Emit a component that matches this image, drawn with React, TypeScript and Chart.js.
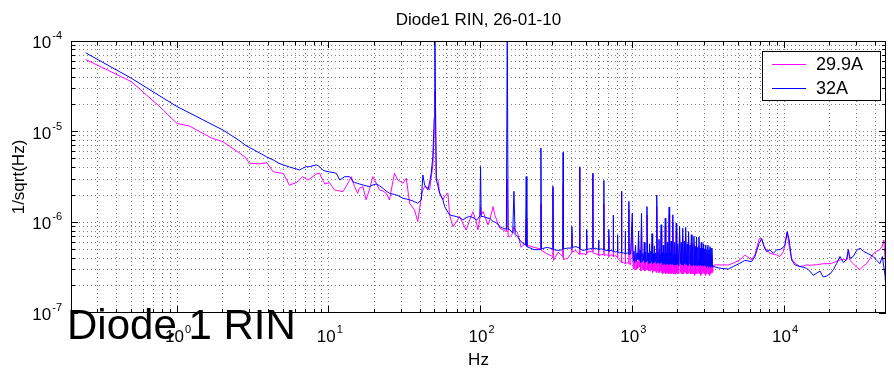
import React, { useEffect, useRef } from 'react';
import { Chart, registerables } from 'chart.js';

Chart.register(...registerables);

// ---------- Data ----------
const seriesLabels = ['29.9A', '32A'];
const seriesColors = ['#ff00ff', '#0000ff'];
const chartTitle = 'Diode1 RIN, 26-01-10';
const xAxisTitle = 'Hz';
const yAxisTitle = '1/sqrt(Hz)';
const overlayText = 'Diode 1 RIN';
const xDecadeExps = [0, 1, 2, 3, 4];
const yDecadeExps = [-4, -5, -6, -7];
const xRange = [0.2, 47000];
const yRange = [1e-7, 1e-4];

// Low frequency part (0.25 Hz – 152 Hz)
const freqLow = [
  0.25, 0.5, 0.76, 1.0, 1.2, 1.7, 2.0, 2.6, 2.8, 3.0,
  3.5, 3.9, 4.3, 4.7, 5.0, 5.5, 6.1, 6.4, 6.7, 7.1,
  7.3, 8.3, 8.7, 9.1, 9.4, 10.1, 10.9, 11.2, 11.8, 12.4,
  12.7, 13.0, 13.7, 14.1, 14.4, 14.8, 15.5, 15.9, 16.8, 17.6,
  18.5, 19.5, 20.5, 21.6, 22.7, 23.9, 25.1, 27.1, 28.5, 30.8,
  32.4, 34.1, 36.7, 38.6, 40.7, 41.7, 42.8, 45, 46.2, 47.3,
  48.5, 49.5, 50, 50.5, 51.1, 52.4, 53.7, 56.5, 58, 61,
  62.5, 65.8, 69.2, 72.8, 76.6, 80.6, 84.8, 89.1, 93.8, 96.1,
  99, 100, 101, 104, 112, 115, 121, 124, 130, 134,
  141, 148, 150, 152,
];
const rin299ALow = [
  6.25e-5, 3.56e-5, 1.92e-5, 1.23e-5, 1.16e-5, 8.46e-6, 7.76e-6, 5.76e-6, 5.26e-6, 4.48e-6,
  4.41e-6, 4.55e-6, 3.62e-6, 3.51e-6, 3.48e-6, 2.58e-6, 2.74e-6, 2.93e-6, 3.19e-6, 3.01e-6,
  2.93e-6, 3.42e-6, 3.48e-6, 2.93e-6, 2.65e-6, 2.74e-6, 2.28e-6, 2.25e-6, 2.22e-6, 2.18e-6,
  2.33e-6, 2.48e-6, 2.93e-6, 3.19e-6, 2.78e-6, 2.48e-6, 2.09e-6, 2.38e-6, 2.48e-6, 1.77e-6,
  2.28e-6, 3.19e-6, 2.72e-6, 2.28e-6, 2.22e-6, 2.09e-6, 1.77e-6, 3.48e-6, 2.93e-6, 2.70e-6,
  3.06e-6, 1.62e-6, 1.37e-6, 1.02e-6, 1.92e-6, 2.28e-6, 2.48e-6, 2.40e-6, 2.28e-6, 3.09e-6,
  4.30e-6, 1.0e-5, 2.8e-5, 1.2e-5, 3.09e-6, 2.93e-6, 2.15e-6, 1.77e-6, 1.95e-6, 2.09e-6,
  1.21e-6, 8.97e-7, 1.01e-6, 1.16e-6, 9.6e-7, 8.25e-7, 1.06e-6, 1.31e-6, 1.01e-6, 8.25e-7,
  1.11e-6, 1.48e-6, 1.21e-6, 1.31e-6, 9.36e-7, 1.06e-6, 1.49e-6, 1.21e-6, 9.77e-7, 8.6e-7,
  8.25e-7, 7.9e-7, 3.0e-6, 6.95e-7,
];
const rin32ALow = [
  7.4e-5, 3.88e-5, 2.51e-5, 1.89e-5, 1.62e-5, 1.20e-5, 1.045e-5, 7.89e-6, 7.14e-6, 6.70e-6,
  5.82e-6, 5.26e-6, 4.88e-6, 4.48e-6, 4.30e-6, 4.08e-6, 3.88e-6, 3.78e-6, 3.93e-6, 4.12e-6,
  4.08e-6, 4.30e-6, 4.13e-6, 3.78e-6, 3.69e-6, 3.60e-6, 3.51e-6, 3.48e-6, 2.93e-6, 3.09e-6,
  3.19e-6, 3.19e-6, 3.19e-6, 3.01e-6, 2.81e-6, 2.75e-6, 2.69e-6, 2.65e-6, 2.58e-6, 2.53e-6,
  2.48e-6, 2.58e-6, 2.65e-6, 2.53e-6, 2.38e-6, 2.21e-6, 2.09e-6, 2.03e-6, 1.98e-6, 1.84e-6,
  1.81e-6, 1.77e-6, 1.69e-6, 1.62e-6, 1.77e-6, 3.33e-6, 2.58e-6, 2.28e-6, 2.78e-6, 3.48e-6,
  5.30e-6, 1.4e-5, 1.3e-4, 2.0e-5, 2.93e-6, 2.53e-6, 2.09e-6, 1.77e-6, 1.49e-6, 1.29e-6,
  1.21e-6, 1.18e-6, 1.16e-6, 1.13e-6, 1.06e-6, 1.13e-6, 1.16e-6, 1.13e-6, 1.06e-6, 1.09e-6,
  1.18e-6, 4.12e-6, 1.16e-6, 1.16e-6, 1.11e-6, 1.11e-6, 1.02e-6, 1.01e-6, 9.6e-7, 8.97e-7,
  8.6e-7, 8.4e-7, 1.3e-4, 8.3e-7,
];

// Mains harmonics region (156 Hz – 975 Hz)
const freqMid = [
  156, 163, 166, 169, 175, 185,
  198, 200, 202, 225, 248, 250, 252, 275, 298, 300, 302, 325,
  348, 350, 352, 375, 398, 400, 402, 425, 448, 450, 452, 475,
  498, 500, 502, 525, 548, 550, 552, 575, 598, 600, 602, 625,
  648, 650, 652, 675, 698, 700, 702, 725, 748, 750, 752, 775,
  798, 800, 802, 825, 848, 850, 852, 875, 898, 900, 902, 925,
  948, 950, 952, 975,
];
const rin299AMid = [
  6.95e-7, 7.5e-7, 9.0e-7, 8.2e-7, 7.8e-7, 5.3e-7,
  5.9e-7, 1.1e-6, 5.6e-7, 5.3e-7, 5.1e-7, 1.6e-6, 4.9e-7, 4.5e-7, 4.2e-7, 2.4e-6, 3.8e-7, 4.7e-7,
  4.2e-7, 2.6e-6, 3.9e-7, 4.0e-7, 4.6e-7, 7.5e-7, 4.7e-7, 4.9e-7, 4.4e-7, 4.0e-6, 4.5e-7, 4.5e-7,
  4.4e-7, 7.2e-7, 4.6e-7, 4.8e-7, 4.7e-7, 3.4e-6, 4.6e-7, 4.5e-7, 4.4e-7, 5.6e-7, 4.3e-7, 4.4e-7,
  4.4e-7, 1.6e-6, 4.3e-7, 4.4e-7, 4.3e-7, 7.0e-7, 4.2e-7, 4.4e-7, 4.3e-7, 1.2e-6, 4.2e-7, 4.3e-7,
  4.1e-7, 6.2e-7, 4.0e-7, 3.8e-7, 3.7e-7, 2.2e-6, 3.6e-7, 3.6e-7, 3.5e-7, 6.5e-7, 3.5e-7, 3.6e-7,
  3.5e-7, 1.4e-6, 3.5e-7, 3.4e-7,
];
const rin32AMid = [
  8.3e-7, 7.6e-7, 2.2e-6, 7.3e-7, 7.0e-7, 6.1e-7,
  5.6e-7, 3.2e-6, 5.4e-7, 5.0e-7, 5.0e-7, 6.6e-6, 5.1e-7, 5.3e-7, 5.1e-7, 2.5e-6, 5.0e-7, 4.9e-7,
  5.0e-7, 5.9e-6, 5.1e-7, 5.2e-7, 5.2e-7, 9.0e-7, 5.3e-7, 5.4e-7, 5.2e-7, 4.1e-6, 5.1e-7, 4.9e-7,
  5.0e-7, 8.3e-7, 5.0e-7, 5.1e-7, 5.2e-7, 3.5e-6, 5.1e-7, 5.2e-7, 5.0e-7, 6.4e-7, 5.0e-7, 5.1e-7,
  5.0e-7, 2.9e-6, 5.0e-7, 4.9e-7, 4.9e-7, 8.3e-7, 4.8e-7, 4.9e-7, 4.8e-7, 1.2e-6, 4.8e-7, 4.7e-7,
  4.8e-7, 7.3e-7, 4.7e-7, 4.6e-7, 4.7e-7, 2.2e-6, 4.6e-7, 4.6e-7, 4.5e-7, 8.0e-7, 4.5e-7, 4.6e-7,
  4.5e-7, 1.7e-6, 4.4e-7, 4.5e-7,
];

// Dense harmonic band, first part (1 kHz – 1.99 kHz)
const freqBand1 = [
  1000, 1012.5, 1025, 1037.5, 1050, 1062.5, 1075, 1087.5, 1100, 1112.5,
  1125, 1137.5, 1150, 1162.5, 1175, 1187.5, 1200, 1212.5, 1225, 1237.5,
  1250, 1262.5, 1275, 1287.5, 1300, 1312.5, 1325, 1337.5, 1350, 1362.5,
  1375, 1387.5, 1400, 1412.5, 1425, 1437.5, 1450, 1462.5, 1475, 1487.5,
  1500, 1512.5, 1525, 1537.5, 1550, 1562.5, 1575, 1587.5, 1600, 1612.5,
  1625, 1637.5, 1650, 1662.5, 1675, 1687.5, 1700, 1712.5, 1725, 1737.5,
  1750, 1762.5, 1775, 1787.5, 1800, 1812.5, 1825, 1837.5, 1850, 1862.5,
  1875, 1887.5, 1900, 1912.5, 1925, 1937.5, 1950, 1962.5, 1975, 1987.5,
];
const rin299ABand1 = [
  1.0e-6, 3.1e-7, 3.8e-7, 3.0e-7, 4.4e-7, 3.0e-7, 3.7e-7, 3.1e-7, 6.0e-7, 3.2e-7,
  3.8e-7, 2.9e-7, 9.5e-7, 3.0e-7, 3.6e-7, 3.0e-7, 4.6e-7, 2.9e-7, 3.7e-7, 3.0e-7,
  1.2e-6, 3.0e-7, 3.6e-7, 2.9e-7, 4.5e-7, 2.9e-7, 3.7e-7, 3.0e-7, 5.8e-7, 2.8e-7,
  3.5e-7, 2.9e-7, 4.3e-7, 2.9e-7, 3.6e-7, 2.8e-7, 1.5e-6, 2.9e-7, 3.6e-7, 2.8e-7,
  5.0e-7, 2.8e-7, 3.5e-7, 2.9e-7, 8.0e-7, 2.8e-7, 3.6e-7, 2.7e-7, 4.3e-7, 2.8e-7,
  3.5e-7, 2.8e-7, 9.0e-7, 2.7e-7, 3.5e-7, 2.8e-7, 4.6e-7, 2.8e-7, 3.4e-7, 2.7e-7,
  1.2e-6, 2.8e-7, 3.5e-7, 2.7e-7, 4.8e-7, 2.7e-7, 3.4e-7, 2.8e-7, 1.0e-6, 2.7e-7,
  3.4e-7, 2.7e-7, 4.5e-7, 2.7e-7, 3.4e-7, 2.7e-7, 8.0e-7, 2.8e-7, 3.4e-7, 2.7e-7,
];
const rin32ABand1 = [
  1.26e-6, 3.8e-7, 4.8e-7, 3.6e-7, 5.6e-7, 3.7e-7, 4.6e-7, 3.9e-7, 8.0e-7, 3.8e-7,
  4.9e-7, 3.6e-7, 1.26e-6, 3.7e-7, 4.5e-7, 3.8e-7, 6.0e-7, 3.6e-7, 4.7e-7, 3.7e-7,
  1.49e-6, 3.8e-7, 4.6e-7, 3.5e-7, 5.8e-7, 3.6e-7, 4.8e-7, 3.7e-7, 7.5e-7, 3.5e-7,
  4.5e-7, 3.6e-7, 5.5e-7, 3.7e-7, 4.6e-7, 3.5e-7, 2.0e-6, 3.6e-7, 4.7e-7, 3.6e-7,
  6.5e-7, 3.5e-7, 4.4e-7, 3.6e-7, 9.4e-7, 3.6e-7, 4.6e-7, 3.4e-7, 5.6e-7, 3.5e-7,
  4.5e-7, 3.5e-7, 1.11e-6, 3.4e-7, 4.6e-7, 3.6e-7, 6.0e-7, 3.5e-7, 4.4e-7, 3.4e-7,
  1.47e-6, 3.5e-7, 4.5e-7, 3.5e-7, 6.2e-7, 3.4e-7, 4.4e-7, 3.5e-7, 1.21e-6, 3.4e-7,
  4.5e-7, 3.4e-7, 6.0e-7, 3.5e-7, 4.3e-7, 3.4e-7, 9.8e-7, 3.4e-7, 4.4e-7, 3.5e-7,
];

// Dense harmonic band, second part (2 kHz – 3.4 kHz)
const freqBand2 = [
  2000, 2025, 2050, 2075, 2100, 2125, 2150, 2175, 2200, 2225,
  2250, 2275, 2300, 2325, 2350, 2375, 2400, 2425, 2450, 2475,
  2500, 2525, 2550, 2575, 2600, 2625, 2650, 2675, 2700, 2725,
  2750, 2775, 2800, 2825, 2850, 2875, 2900, 2925, 2950, 2975,
  3000, 3025, 3050, 3075, 3100, 3125, 3150, 3175, 3200, 3225,
  3250, 3275, 3300, 3325, 3350, 3375, 3400,
];
const rin299ABand2 = [
  4.4e-7, 2.7e-7, 7.2e-7, 2.8e-7, 4.5e-7, 2.7e-7, 7.0e-7, 2.7e-7, 4.6e-7, 2.8e-7,
  7.0e-7, 2.7e-7, 4.4e-7, 2.7e-7, 6.4e-7, 2.8e-7, 4.3e-7, 2.7e-7, 6.0e-7, 2.7e-7,
  4.2e-7, 2.7e-7, 5.7e-7, 2.6e-7, 4.2e-7, 2.7e-7, 5.6e-7, 2.7e-7, 4.1e-7, 2.8e-7,
  5.6e-7, 2.7e-7, 4.1e-7, 2.6e-7, 4.9e-7, 2.7e-7, 4.1e-7, 2.8e-7, 4.8e-7, 2.7e-7,
  4.0e-7, 2.6e-7, 4.6e-7, 2.7e-7, 4.0e-7, 2.8e-7, 4.5e-7, 2.7e-7, 4.0e-7, 2.6e-7,
  4.4e-7, 2.7e-7, 4.0e-7, 2.8e-7, 4.3e-7, 2.8e-7, 3.2e-7,
];
const rin32ABand2 = [
  5.8e-7, 3.3e-7, 9.0e-7, 3.5e-7, 6.0e-7, 3.4e-7, 8.6e-7, 3.3e-7, 6.2e-7, 3.5e-7,
  8.8e-7, 3.4e-7, 5.8e-7, 3.3e-7, 7.9e-7, 3.5e-7, 5.6e-7, 3.4e-7, 7.3e-7, 3.3e-7,
  5.5e-7, 3.4e-7, 7.0e-7, 3.3e-7, 5.4e-7, 3.4e-7, 6.9e-7, 3.3e-7, 5.3e-7, 3.4e-7,
  6.9e-7, 3.3e-7, 5.2e-7, 3.4e-7, 6.0e-7, 3.3e-7, 5.2e-7, 3.3e-7, 5.8e-7, 3.4e-7,
  5.1e-7, 3.3e-7, 5.6e-7, 3.2e-7, 5.0e-7, 3.3e-7, 5.6e-7, 3.2e-7, 5.0e-7, 3.3e-7,
  5.4e-7, 3.2e-7, 5.2e-7, 3.3e-7, 5.2e-7, 3.2e-7, 3.3e-7,
];

// High frequency part (3.45 kHz – 47 kHz)
const freqHigh = [
  3450, 3780, 4290, 4620, 5120, 5520, 6110, 6430, 6860, 7120,
  7380, 7680, 8070, 8490, 8940, 9400, 9890, 10140, 10500, 10820,
  11220, 11800, 12730, 13400, 14090, 14800, 15590, 16400, 17260, 18100,
  19100, 20100, 21130, 22200, 23380, 24600, 25880, 26540, 27200, 28600,
  30100, 31670, 33300, 35050, 36900, 38730, 40800, 42870, 44500, 45500,
  46300, 46700, 47000,
];
const rin299AHigh = [
  3.39e-7, 3.39e-7, 3.39e-7, 3.54e-7, 3.85e-7, 4.37e-7, 3.85e-7, 4.37e-7, 6.6e-7, 6.6e-7,
  5.5e-7, 4.96e-7, 4.56e-7, 4.45e-7, 4.37e-7, 4.19e-7, 4.75e-7, 5.6e-7, 7.89e-7, 5.4e-7,
  4.0e-7, 3.54e-7, 3.25e-7, 3.3e-7, 3.4e-7, 3.35e-7, 3.4e-7, 3.4e-7, 3.45e-7, 3.5e-7,
  3.5e-7, 3.5e-7, 3.6e-7, 3.7e-7, 3.85e-7, 3.9e-7, 3.85e-7, 5.0e-7, 3.8e-7, 3.5e-7,
  3.2e-7, 3.0e-7, 3.3e-7, 3.5e-7, 4.0e-7, 4.5e-7, 4.8e-7, 5.0e-7, 5.5e-7, 6.4e-7,
  4.0e-7, 3.3e-7, 6.0e-7,
];
const rin32AHigh = [
  3.25e-7, 3.12e-7, 3.05e-7, 3.25e-7, 3.54e-7, 3.8e-7, 3.69e-7, 4.19e-7, 5.88e-7, 6.6e-7,
  5.4e-7, 4.75e-7, 4.96e-7, 4.56e-7, 4.96e-7, 5.0e-7, 5.3e-7, 5.65e-7, 7.89e-7, 6.4e-7,
  3.85e-7, 3.39e-7, 3.25e-7, 3.2e-7, 3.1e-7, 2.9e-7, 2.6e-7, 2.75e-7, 2.9e-7, 2.5e-7,
  2.55e-7, 2.7e-7, 3.0e-7, 3.5e-7, 4.2e-7, 3.6e-7, 3.9e-7, 5.0e-7, 4.0e-7, 4.2e-7,
  4.9e-7, 5.2e-7, 4.8e-7, 4.6e-7, 4.4e-7, 4.2e-7, 3.8e-7, 3.5e-7, 4.2e-7, 3.2e-7,
  2.6e-7, 2.1e-7, 6.8e-7,
];

const freqHz = [...freqLow, ...freqMid, ...freqBand1, ...freqBand2, ...freqHigh];
const rin299A = [...rin299ALow, ...rin299AMid, ...rin299ABand1, ...rin299ABand2, ...rin299AHigh];
const rin32A = [...rin32ALow, ...rin32AMid, ...rin32ABand1, ...rin32ABand2, ...rin32AHigh];

const FONT = '"Liberation Sans", Arial, Helvetica, sans-serif';

function drawPow(ctx: CanvasRenderingContext2D, exp: string, ax: number, baseY: number, align: 'center' | 'right') {
  ctx.font = `17px ${FONT}`;
  const w1 = ctx.measureText('10').width;
  ctx.font = `11px ${FONT}`;
  const w2 = ctx.measureText(exp).width;
  const total = w1 + 1 + w2;
  const sx = align === 'center' ? ax - total / 2 : ax - total;
  ctx.textAlign = 'left';
  ctx.textBaseline = 'alphabetic';
  ctx.font = `17px ${FONT}`;
  ctx.fillText('10', sx, baseY);
  ctx.font = `11px ${FONT}`;
  ctx.fillText(exp, sx + w1 + 1, baseY - 9);
}

function decadeValues(min: number, max: number) {
  const out: { v: number; major: boolean }[] = [];
  const e0 = Math.floor(Math.log10(min));
  const e1 = Math.ceil(Math.log10(max));
  for (let e = e0; e <= e1; e++) {
    for (let k = 1; k <= 9; k++) {
      const v = k * Math.pow(10, e);
      if (v >= min * 0.9999 && v <= max * 1.0001) out.push({ v, major: k === 1 });
    }
  }
  return out;
}

const matlabAxes = {
  id: 'matlabAxes',
  beforeDatasetsDraw(chart: any) {
    const { ctx, chartArea: a, scales } = chart;
    const xs = scales.x;
    const ys = scales.y;
    ctx.save();
    ctx.strokeStyle = 'rgba(0,0,0,0.5)';
    ctx.lineWidth = 1;
    ctx.setLineDash([1, 3]);
    for (const t of decadeValues(xRange[0], xRange[1])) {
      const px = Math.floor(xs.getPixelForValue(t.v)) + 0.5;
      if (px <= a.left + 1 || px >= a.right - 1) continue;
      ctx.beginPath();
      ctx.moveTo(px, a.top);
      ctx.lineTo(px, a.bottom);
      ctx.stroke();
    }
    for (const t of decadeValues(yRange[0], yRange[1])) {
      const py = Math.floor(ys.getPixelForValue(t.v)) + 0.5;
      if (py <= a.top + 1 || py >= a.bottom - 1) continue;
      ctx.beginPath();
      ctx.moveTo(a.left, py);
      ctx.lineTo(a.right, py);
      ctx.stroke();
    }
    ctx.restore();
  },
  afterDatasetsDraw(chart: any) {
    const { ctx, chartArea: a, scales } = chart;
    const xs = scales.x;
    const ys = scales.y;
    ctx.save();
    ctx.setLineDash([]);
    ctx.strokeStyle = '#000';
    ctx.lineWidth = 1;
    // ticks
    ctx.beginPath();
    for (const t of decadeValues(xRange[0], xRange[1])) {
      const px = Math.floor(xs.getPixelForValue(t.v)) + 0.5;
      const len = t.major ? 7 : 4;
      ctx.moveTo(px, a.bottom);
      ctx.lineTo(px, a.bottom - len);
      ctx.moveTo(px, a.top);
      ctx.lineTo(px, a.top + len);
    }
    for (const t of decadeValues(yRange[0], yRange[1])) {
      const py = Math.floor(ys.getPixelForValue(t.v)) + 0.5;
      const len = t.major ? 7 : 4;
      ctx.moveTo(a.left, py);
      ctx.lineTo(a.left + len, py);
      ctx.moveTo(a.right, py);
      ctx.lineTo(a.right - len, py);
    }
    ctx.stroke();
    // frame
    ctx.strokeRect(a.left + 0.5, a.top + 0.5, a.right - a.left - 1, a.bottom - a.top - 1);

    ctx.fillStyle = '#000';
    // tick labels
    for (const e of xDecadeExps) {
      const px = xs.getPixelForValue(Math.pow(10, e));
      drawPow(ctx, String(e), px + 1, a.bottom + 29, 'center');
    }
    for (const e of yDecadeExps) {
      const py = ys.getPixelForValue(Math.pow(10, e));
      drawPow(ctx, String(e), a.left - 9, py + 7, 'right');
    }
    // title & axis titles
    ctx.font = `17px ${FONT}`;
    ctx.textAlign = 'center';
    ctx.textBaseline = 'alphabetic';
    const cx = (a.left + a.right) / 2;
    ctx.fillText(chartTitle, cx, 25);
    ctx.fillText(xAxisTitle, cx, a.bottom + 52);
    ctx.save();
    ctx.translate(24, (a.top + a.bottom) / 2);
    ctx.rotate(-Math.PI / 2);
    ctx.textBaseline = 'alphabetic';
    ctx.fillText(yAxisTitle, 0, 0);
    ctx.restore();

    // legend
    const lx = 762, ly = 51, lw = 118, lh = 49;
    ctx.fillStyle = '#fff';
    ctx.fillRect(lx, ly, lw, lh);
    ctx.strokeStyle = '#000';
    ctx.strokeRect(lx + 0.5, ly + 0.5, lw, lh);
    const rows = [64, 88];
    seriesLabels.forEach((lab, i) => {
      ctx.strokeStyle = seriesColors[i];
      ctx.beginPath();
      ctx.moveTo(772, rows[i] + 0.5);
      ctx.lineTo(806, rows[i] + 0.5);
      ctx.stroke();
      ctx.fillStyle = '#000';
      ctx.font = `18px ${FONT}`;
      ctx.textAlign = 'left';
      ctx.textBaseline = 'middle';
      ctx.fillText(lab, 816, rows[i] + 1);
    });

    // overlay caption
    ctx.fillStyle = '#000';
    ctx.font = `42px ${FONT}`;
    ctx.textAlign = 'left';
    ctx.textBaseline = 'alphabetic';
    ctx.fillText(overlayText, 67, 339);
    ctx.restore();
  },
};

export default function App() {
  const canvasRef = useRef<HTMLCanvasElement>(null);
  useEffect(() => {
    const canvas = canvasRef.current;
    if (!canvas) return;
    const chart = new Chart(canvas, {
      type: 'line',
      data: {
        datasets: [
          {
            label: seriesLabels[0],
            data: freqHz.map((f, i) => ({ x: f, y: rin299A[i] })),
            borderColor: seriesColors[0],
            backgroundColor: seriesColors[0],
            borderWidth: 1,
            pointRadius: 0,
            order: 1,
          },
          {
            label: seriesLabels[1],
            data: freqHz.map((f, i) => ({ x: f, y: rin32A[i] })),
            borderColor: seriesColors[1],
            backgroundColor: seriesColors[1],
            borderWidth: 1,
            pointRadius: 0,
            order: 0,
          },
        ],
      },
      options: {
        responsive: false,
        devicePixelRatio: 1,
        animation: false,
        events: [],
        layout: { padding: { top: 41, right: 8, left: 0, bottom: 0 } },
        plugins: { legend: { display: false }, tooltip: { enabled: false }, title: { display: false } },
        scales: {
          x: {
            type: 'logarithmic',
            min: xRange[0],
            max: xRange[1],
            grid: { display: false, drawTicks: false },
            border: { display: false },
            ticks: { display: false },
            afterFit: (s: any) => { s.height = 62; },
          },
          y: {
            type: 'logarithmic',
            min: yRange[0],
            max: yRange[1],
            grid: { display: false, drawTicks: false },
            border: { display: false },
            ticks: { display: false },
            afterFit: (s: any) => { s.width = 71; },
          },
        },
      } as any,
      plugins: [matlabAxes],
    });
    return () => chart.destroy();
  }, []);
  return (
    <div style={{ position: 'fixed', left: 0, top: 0, width: 894, height: 375, background: '#fff' }}>
      <canvas ref={canvasRef} width={894} height={375} style={{ display: 'block' }} />
    </div>
  );
}
